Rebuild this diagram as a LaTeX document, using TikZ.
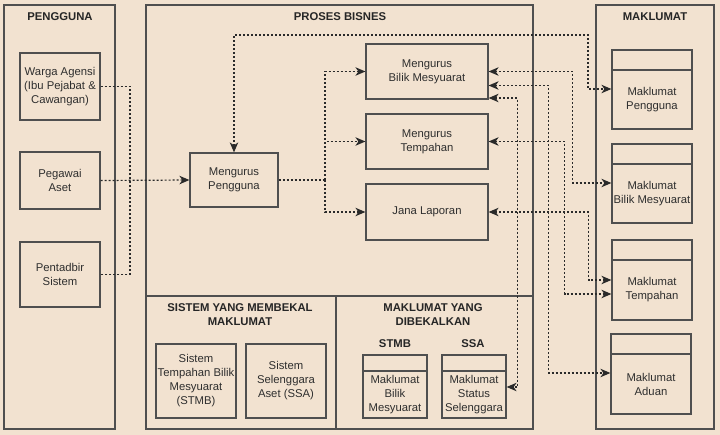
\documentclass[tikz,border=0pt]{standalone}
\usepackage{fontspec}
\setmainfont{Liberation Sans}
\usetikzlibrary{arrows.meta}
\definecolor{bgc}{HTML}{F2E2D0}
\definecolor{linec}{HTML}{4F4F4F}
\definecolor{txtc}{HTML}{2E2E2E}
\definecolor{conc}{HTML}{2A2A2A}
\begin{document}
\begin{tikzpicture}[x=1pt,y=-1pt,
  every node/.style={font=\fontsize{11.3}{14}\selectfont, text=txtc},
  frame/.style={draw=linec, line width=1.2pt},
  box/.style={draw=linec, line width=1.2pt, fill=bgc, align=center, inner sep=0pt},
  hdr/.style={draw=linec, line width=1.2pt, fill=bgc, inner sep=0pt},
  ttl/.style={font=\fontsize{11.3}{14}\selectfont\bfseries, text=black!85, align=center},
  con/.style={draw=conc, line width=1.2pt, dash pattern=on 2pt off 2pt},
  arr/.style={con, -{Stealth[length=10pt,width=8.5pt,inset=3pt]}},
  darr/.style={con, {Stealth[length=10pt,width=8.5pt,inset=3pt]}-{Stealth[length=10pt,width=8.5pt,inset=3pt]}}
]
\fill[bgc] (0,0) rectangle (720,435);
\useasboundingbox (0,0) rectangle (720,435);

% containers
\draw[frame] (4,5) rectangle (115,429);
\draw[frame] (146,5) rectangle (533,296);
\draw[frame] (146,296) rectangle (533,429);
\draw[frame] (336,296) -- (336,429);
\draw[frame] (596,5) rectangle (714,429);

% titles
\node[ttl] (tpeng) at (60,17) {PENGGUNA};
\node[ttl] (tproses) at (340,17) {PROSES BISNES};
\node[ttl] (tmak) at (655,17) {MAKLUMAT};
\node[ttl] (tsis) at (240,315) {SISTEM YANG MEMBEKAL\\MAKLUMAT};
\node[ttl] (tdib) at (433,315) {MAKLUMAT YANG\\DIBEKALKAN};
\node[ttl] (tstmb) at (395,344) {STMB};
\node[ttl] (tssa) at (473,344) {SSA};

% users
\node[box, minimum width=80pt, minimum height=67pt] (warga) at (60,86.5) {Warga Agensi\\(Ibu Pejabat \&\\Cawangan)};
\node[box, minimum width=80pt, minimum height=57pt] (pegawai) at (60,180.5) {Pegawai\\Aset};
\node[box, minimum width=80pt, minimum height=65pt] (pentadbir) at (60,274.5) {Pentadbir\\Sistem};

% processes
\node[box, minimum width=88pt, minimum height=54pt] (mp) at (234,180) {Mengurus\\Pengguna};
\node[box, minimum width=122pt, minimum height=55pt] (mbm) at (427,71.5) {Mengurus\\Bilik Mesyuarat};
\node[box, minimum width=122pt, minimum height=55pt] (mt) at (427,141.5) {Mengurus\\Tempahan};
\node[box, minimum width=122pt, minimum height=56pt] (jl) at (427,212) {Jana Laporan};

% data stores (right)
\node[hdr, minimum width=80pt, minimum height=20pt] (mpengh) at (652,60) {};
\node[box, minimum width=80pt, minimum height=59pt] (mpeng) at (652,99.5) {Maklumat\\Pengguna};
\node[hdr, minimum width=80pt, minimum height=20pt] (mbilh) at (652,154) {};
\node[box, minimum width=80pt, minimum height=59pt] (mbil) at (652,193.5) {Maklumat\\Bilik Mesyuarat};
\node[hdr, minimum width=80pt, minimum height=20pt] (mtemh) at (652,250) {};
\node[box, minimum width=80pt, minimum height=60pt] (mtem) at (652,290) {Maklumat\\Tempahan};
\node[hdr, minimum width=80pt, minimum height=20pt] (maduh) at (651,344) {};
\node[box, minimum width=80pt, minimum height=60pt] (madu) at (651,384) {Maklumat\\Aduan};

% systems
\node[box, minimum width=80pt, minimum height=74pt] (stmb) at (196,381) {Sistem\\Tempahan Bilik\\Mesyuarat\\(STMB)};
\node[box, minimum width=80pt, minimum height=74pt] (ssa) at (286,381) {Sistem\\Selenggara\\Aset (SSA)};

% supplied data
\node[hdr, minimum width=64pt, minimum height=16pt] (smbilh) at (395,363) {};
\node[box, minimum width=64pt, minimum height=47pt] (smbil) at (395,394.5) {Maklumat\\Bilik\\Mesyuarat};
\node[hdr, minimum width=64pt, minimum height=16pt] (mselh) at (474,363) {};
\node[box, minimum width=64pt, minimum height=47pt] (msel) at (474,394.5) {Maklumat\\Status\\Selenggara};

% connectors: users
\coordinate (j) at (130,180.5);
\draw[con] (warga.east) -| (j) |- (pentadbir.east);
\draw[arr] (pegawai.east) -- (mp.west);

% Mengurus Pengguna <-> Maklumat Pengguna
\coordinate (c1) at (588,35);
\draw[darr] (mp.north) |- (c1) |- ([yshift=10.5pt]mpeng.west);

% Mengurus Pengguna -> processes
\coordinate (k) at (325,180);
\draw[con] (mp.east) -- (k);
\draw[arr] (k) |- (mbm.west);
\draw[arr] (k) |- (mt.west);
\draw[arr] (k) |- (jl.west);

% processes <-> data
\draw[darr] (mbm.east) -- ++(84,0) |- ([yshift=10.5pt]mbil.west);
\draw[darr] ([yshift=-14pt]mbm.east) -- ++(60,0) |- ([yshift=11pt]madu.west);
\draw[darr] ([yshift=-26.5pt]mbm.east) -- ++(29,0) |- ([yshift=7.5pt]msel.east);
\draw[darr] (mt.east) -- ++(76,0) |- ([yshift=-4pt]mtem.west);
\draw[darr] (jl.east) -- ++(100,0) |- ([yshift=10pt]mtem.west);
\end{tikzpicture}
\end{document}
